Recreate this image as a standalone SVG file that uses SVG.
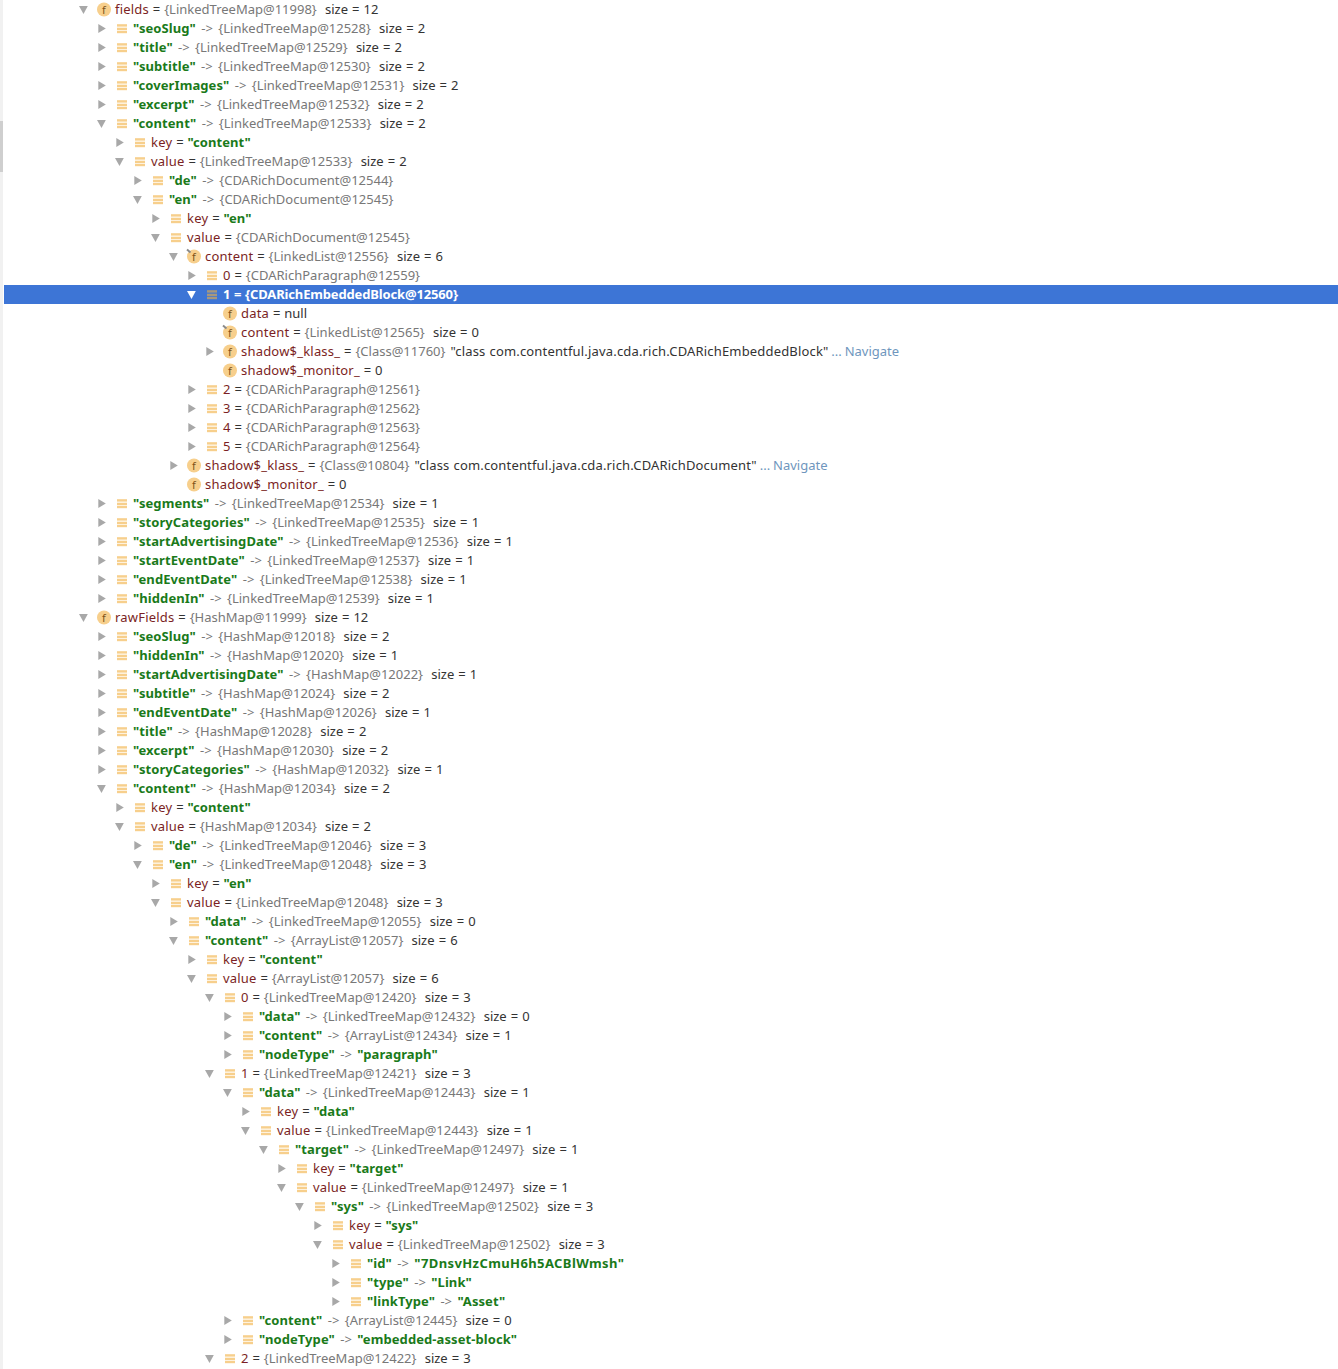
<svg xmlns="http://www.w3.org/2000/svg" width="1338" height="1369" viewBox="0 0 1338 1369">
<style>
text{font-family:"Noto Sans","Liberation Sans",sans-serif;font-size:13px;fill:#333;white-space:pre;word-spacing:.5px}
.n{fill:#7b1f24;letter-spacing:.2px}.g{fill:#787878;word-spacing:2px}.s{fill:#1a7a1a;font-weight:bold;letter-spacing:.08px}.v{fill:#6f96bd;word-spacing:-.5px}.z{word-spacing:.7px}.q{word-spacing:.5px;letter-spacing:.17px}
.w,.w tspan{fill:#fff;font-weight:bold;letter-spacing:-.15px}.fi{font-size:11px;fill:#7d5218;text-anchor:middle}
</style>
<defs>
<path id="c" d="M-3.700-4L3.800 .5L-3.700 5Z" fill="#a8a8a8"/>
<path id="o" d="M-5-3L3.800-3L-.5 5Z" fill="#a8a8a8"/>
<path id="ow" d="M-5-3L3.800-3L-.5 5Z" fill="#fff"/>
<g id="l" fill="#f7cf8c"><rect x="-5" y="-3.800" width="10" height="2.400"/><rect x="-5" y="-.3" width="10" height="2.400"/><rect x="-5" y="2.800" width="10" height="2.400"/></g>
<g id="lw" fill="#a8987c"><rect x="-5" y="-3.800" width="10" height="2.400"/><rect x="-5" y="-.3" width="10" height="2.400"/><rect x="-5" y="2.800" width="10" height="2.400"/></g>
<circle id="f" r="7" cy=".5" fill="#f7cf8c"/>
<path id="p" d="M-7-6.500L-3.500-3.500" stroke="#8a8a8a" stroke-width="2"/>
</defs>
<rect width="1338" height="1369" fill="#fff"/>
<rect x="0" y="0" width="3" height="1369" fill="#f1f1f1"/>
<rect x="0" y="121" width="3" height="51" fill="#cfcfcf"/>
<rect x="4" y="285" width="1334" height="19" fill="#3d75d6"/>
<g id="row0"><use href="#o" x="84" y="9"/><use href="#f" x="104" y="9"/><text class="fi" x="104" y="13.500">f</text><text x="115" y="14"><tspan class="n">fields</tspan> = <tspan class="g">{LinkedTreeMap@11998}</tspan><tspan class="z">  size = 12</tspan></text></g>
<g id="row1"><use href="#c" x="102" y="28"/><use href="#l" x="122" y="28"/><text x="133" y="33"><tspan class="s">"seoSlug"</tspan><tspan class="g"> -&gt; {LinkedTreeMap@12528}</tspan><tspan class="z">  size = 2</tspan></text></g>
<g id="row2"><use href="#c" x="102" y="47"/><use href="#l" x="122" y="47"/><text x="133" y="52"><tspan class="s">"title"</tspan><tspan class="g"> -&gt; {LinkedTreeMap@12529}</tspan><tspan class="z">  size = 2</tspan></text></g>
<g id="row3"><use href="#c" x="102" y="66"/><use href="#l" x="122" y="66"/><text x="133" y="71"><tspan class="s">"subtitle"</tspan><tspan class="g"> -&gt; {LinkedTreeMap@12530}</tspan><tspan class="z">  size = 2</tspan></text></g>
<g id="row4"><use href="#c" x="102" y="85"/><use href="#l" x="122" y="85"/><text x="133" y="90"><tspan class="s">"coverImages"</tspan><tspan class="g"> -&gt; {LinkedTreeMap@12531}</tspan><tspan class="z">  size = 2</tspan></text></g>
<g id="row5"><use href="#c" x="102" y="104"/><use href="#l" x="122" y="104"/><text x="133" y="109"><tspan class="s">"excerpt"</tspan><tspan class="g"> -&gt; {LinkedTreeMap@12532}</tspan><tspan class="z">  size = 2</tspan></text></g>
<g id="row6"><use href="#o" x="102" y="123"/><use href="#l" x="122" y="123"/><text x="133" y="128"><tspan class="s">"content"</tspan><tspan class="g"> -&gt; {LinkedTreeMap@12533}</tspan><tspan class="z">  size = 2</tspan></text></g>
<g id="row7"><use href="#c" x="120" y="142"/><use href="#l" x="140" y="142"/><text x="151" y="147"><tspan class="n">key</tspan> = <tspan class="s">"content"</tspan></text></g>
<g id="row8"><use href="#o" x="120" y="161"/><use href="#l" x="140" y="161"/><text x="151" y="166"><tspan class="n">value</tspan> = <tspan class="g">{LinkedTreeMap@12533}</tspan><tspan class="z">  size = 2</tspan></text></g>
<g id="row9"><use href="#c" x="138" y="180"/><use href="#l" x="158" y="180"/><text x="169" y="185"><tspan class="s">"de"</tspan><tspan class="g"> -&gt; {CDARichDocument@12544}</tspan></text></g>
<g id="row10"><use href="#o" x="138" y="199"/><use href="#l" x="158" y="199"/><text x="169" y="204"><tspan class="s">"en"</tspan><tspan class="g"> -&gt; {CDARichDocument@12545}</tspan></text></g>
<g id="row11"><use href="#c" x="156" y="218"/><use href="#l" x="176" y="218"/><text x="187" y="223"><tspan class="n">key</tspan> = <tspan class="s">"en"</tspan></text></g>
<g id="row12"><use href="#o" x="156" y="237"/><use href="#l" x="176" y="237"/><text x="187" y="242"><tspan class="n">value</tspan> = <tspan class="g">{CDARichDocument@12545}</tspan></text></g>
<g id="row13"><use href="#o" x="174" y="256"/><use href="#f" x="194" y="256"/><use href="#p" x="194" y="256"/><text class="fi" x="194" y="260.500">f</text><text x="205" y="261"><tspan class="n">content</tspan> = <tspan class="g">{LinkedList@12556}</tspan><tspan class="z">  size = 6</tspan></text></g>
<g id="row14"><use href="#c" x="192" y="275"/><use href="#l" x="212" y="275"/><text x="223" y="280"><tspan class="n">0</tspan> = <tspan class="g">{CDARichParagraph@12559}</tspan></text></g>
<g id="row15"><use href="#ow" x="192" y="294"/><use href="#lw" x="212" y="294"/><text class="w" x="223" y="299">1 = {CDARichEmbeddedBlock@12560}</text></g>
<g id="row16"><use href="#f" x="230" y="313"/><text class="fi" x="230" y="317.500">f</text><text x="241" y="318"><tspan class="n">data</tspan> = null</text></g>
<g id="row17"><use href="#f" x="230" y="332"/><use href="#p" x="230" y="332"/><text class="fi" x="230" y="336.500">f</text><text x="241" y="337"><tspan class="n">content</tspan> = <tspan class="g">{LinkedList@12565}</tspan><tspan class="z">  size = 0</tspan></text></g>
<g id="row18"><use href="#c" x="210" y="351"/><use href="#f" x="230" y="351"/><text class="fi" x="230" y="355.500">f</text><text x="241" y="356"><tspan class="n">shadow$_klass_</tspan> = <tspan class="g">{Class@11760}</tspan><tspan class="q" dx="1"> "class com.contentful.java.cda.rich.CDARichEmbeddedBlock"</tspan><tspan class="v"> ... Navigate</tspan></text></g>
<g id="row19"><use href="#f" x="230" y="370"/><text class="fi" x="230" y="374.500">f</text><text x="241" y="375"><tspan class="n">shadow$_monitor_</tspan> = 0</text></g>
<g id="row20"><use href="#c" x="192" y="389"/><use href="#l" x="212" y="389"/><text x="223" y="394"><tspan class="n">2</tspan> = <tspan class="g">{CDARichParagraph@12561}</tspan></text></g>
<g id="row21"><use href="#c" x="192" y="408"/><use href="#l" x="212" y="408"/><text x="223" y="413"><tspan class="n">3</tspan> = <tspan class="g">{CDARichParagraph@12562}</tspan></text></g>
<g id="row22"><use href="#c" x="192" y="427"/><use href="#l" x="212" y="427"/><text x="223" y="432"><tspan class="n">4</tspan> = <tspan class="g">{CDARichParagraph@12563}</tspan></text></g>
<g id="row23"><use href="#c" x="192" y="446"/><use href="#l" x="212" y="446"/><text x="223" y="451"><tspan class="n">5</tspan> = <tspan class="g">{CDARichParagraph@12564}</tspan></text></g>
<g id="row24"><use href="#c" x="174" y="465"/><use href="#f" x="194" y="465"/><text class="fi" x="194" y="469.500">f</text><text x="205" y="470"><tspan class="n">shadow$_klass_</tspan> = <tspan class="g">{Class@10804}</tspan><tspan class="q" dx="1"> "class com.contentful.java.cda.rich.CDARichDocument"</tspan><tspan class="v"> ... Navigate</tspan></text></g>
<g id="row25"><use href="#f" x="194" y="484"/><text class="fi" x="194" y="488.500">f</text><text x="205" y="489"><tspan class="n">shadow$_monitor_</tspan> = 0</text></g>
<g id="row26"><use href="#c" x="102" y="503"/><use href="#l" x="122" y="503"/><text x="133" y="508"><tspan class="s">"segments"</tspan><tspan class="g"> -&gt; {LinkedTreeMap@12534}</tspan><tspan class="z">  size = 1</tspan></text></g>
<g id="row27"><use href="#c" x="102" y="522"/><use href="#l" x="122" y="522"/><text x="133" y="527"><tspan class="s">"storyCategories"</tspan><tspan class="g"> -&gt; {LinkedTreeMap@12535}</tspan><tspan class="z">  size = 1</tspan></text></g>
<g id="row28"><use href="#c" x="102" y="541"/><use href="#l" x="122" y="541"/><text x="133" y="546"><tspan class="s">"startAdvertisingDate"</tspan><tspan class="g"> -&gt; {LinkedTreeMap@12536}</tspan><tspan class="z">  size = 1</tspan></text></g>
<g id="row29"><use href="#c" x="102" y="560"/><use href="#l" x="122" y="560"/><text x="133" y="565"><tspan class="s">"startEventDate"</tspan><tspan class="g"> -&gt; {LinkedTreeMap@12537}</tspan><tspan class="z">  size = 1</tspan></text></g>
<g id="row30"><use href="#c" x="102" y="579"/><use href="#l" x="122" y="579"/><text x="133" y="584"><tspan class="s">"endEventDate"</tspan><tspan class="g"> -&gt; {LinkedTreeMap@12538}</tspan><tspan class="z">  size = 1</tspan></text></g>
<g id="row31"><use href="#c" x="102" y="598"/><use href="#l" x="122" y="598"/><text x="133" y="603"><tspan class="s">"hiddenIn"</tspan><tspan class="g"> -&gt; {LinkedTreeMap@12539}</tspan><tspan class="z">  size = 1</tspan></text></g>
<g id="row32"><use href="#o" x="84" y="617"/><use href="#f" x="104" y="617"/><text class="fi" x="104" y="621.500">f</text><text x="115" y="622"><tspan class="n">rawFields</tspan> = <tspan class="g">{HashMap@11999}</tspan><tspan class="z">  size = 12</tspan></text></g>
<g id="row33"><use href="#c" x="102" y="636"/><use href="#l" x="122" y="636"/><text x="133" y="641"><tspan class="s">"seoSlug"</tspan><tspan class="g"> -&gt; {HashMap@12018}</tspan><tspan class="z">  size = 2</tspan></text></g>
<g id="row34"><use href="#c" x="102" y="655"/><use href="#l" x="122" y="655"/><text x="133" y="660"><tspan class="s">"hiddenIn"</tspan><tspan class="g"> -&gt; {HashMap@12020}</tspan><tspan class="z">  size = 1</tspan></text></g>
<g id="row35"><use href="#c" x="102" y="674"/><use href="#l" x="122" y="674"/><text x="133" y="679"><tspan class="s">"startAdvertisingDate"</tspan><tspan class="g"> -&gt; {HashMap@12022}</tspan><tspan class="z">  size = 1</tspan></text></g>
<g id="row36"><use href="#c" x="102" y="693"/><use href="#l" x="122" y="693"/><text x="133" y="698"><tspan class="s">"subtitle"</tspan><tspan class="g"> -&gt; {HashMap@12024}</tspan><tspan class="z">  size = 2</tspan></text></g>
<g id="row37"><use href="#c" x="102" y="712"/><use href="#l" x="122" y="712"/><text x="133" y="717"><tspan class="s">"endEventDate"</tspan><tspan class="g"> -&gt; {HashMap@12026}</tspan><tspan class="z">  size = 1</tspan></text></g>
<g id="row38"><use href="#c" x="102" y="731"/><use href="#l" x="122" y="731"/><text x="133" y="736"><tspan class="s">"title"</tspan><tspan class="g"> -&gt; {HashMap@12028}</tspan><tspan class="z">  size = 2</tspan></text></g>
<g id="row39"><use href="#c" x="102" y="750"/><use href="#l" x="122" y="750"/><text x="133" y="755"><tspan class="s">"excerpt"</tspan><tspan class="g"> -&gt; {HashMap@12030}</tspan><tspan class="z">  size = 2</tspan></text></g>
<g id="row40"><use href="#c" x="102" y="769"/><use href="#l" x="122" y="769"/><text x="133" y="774"><tspan class="s">"storyCategories"</tspan><tspan class="g"> -&gt; {HashMap@12032}</tspan><tspan class="z">  size = 1</tspan></text></g>
<g id="row41"><use href="#o" x="102" y="788"/><use href="#l" x="122" y="788"/><text x="133" y="793"><tspan class="s">"content"</tspan><tspan class="g"> -&gt; {HashMap@12034}</tspan><tspan class="z">  size = 2</tspan></text></g>
<g id="row42"><use href="#c" x="120" y="807"/><use href="#l" x="140" y="807"/><text x="151" y="812"><tspan class="n">key</tspan> = <tspan class="s">"content"</tspan></text></g>
<g id="row43"><use href="#o" x="120" y="826"/><use href="#l" x="140" y="826"/><text x="151" y="831"><tspan class="n">value</tspan> = <tspan class="g">{HashMap@12034}</tspan><tspan class="z">  size = 2</tspan></text></g>
<g id="row44"><use href="#c" x="138" y="845"/><use href="#l" x="158" y="845"/><text x="169" y="850"><tspan class="s">"de"</tspan><tspan class="g"> -&gt; {LinkedTreeMap@12046}</tspan><tspan class="z">  size = 3</tspan></text></g>
<g id="row45"><use href="#o" x="138" y="864"/><use href="#l" x="158" y="864"/><text x="169" y="869"><tspan class="s">"en"</tspan><tspan class="g"> -&gt; {LinkedTreeMap@12048}</tspan><tspan class="z">  size = 3</tspan></text></g>
<g id="row46"><use href="#c" x="156" y="883"/><use href="#l" x="176" y="883"/><text x="187" y="888"><tspan class="n">key</tspan> = <tspan class="s">"en"</tspan></text></g>
<g id="row47"><use href="#o" x="156" y="902"/><use href="#l" x="176" y="902"/><text x="187" y="907"><tspan class="n">value</tspan> = <tspan class="g">{LinkedTreeMap@12048}</tspan><tspan class="z">  size = 3</tspan></text></g>
<g id="row48"><use href="#c" x="174" y="921"/><use href="#l" x="194" y="921"/><text x="205" y="926"><tspan class="s">"data"</tspan><tspan class="g"> -&gt; {LinkedTreeMap@12055}</tspan><tspan class="z">  size = 0</tspan></text></g>
<g id="row49"><use href="#o" x="174" y="940"/><use href="#l" x="194" y="940"/><text x="205" y="945"><tspan class="s">"content"</tspan><tspan class="g"> -&gt; {ArrayList@12057}</tspan><tspan class="z">  size = 6</tspan></text></g>
<g id="row50"><use href="#c" x="192" y="959"/><use href="#l" x="212" y="959"/><text x="223" y="964"><tspan class="n">key</tspan> = <tspan class="s">"content"</tspan></text></g>
<g id="row51"><use href="#o" x="192" y="978"/><use href="#l" x="212" y="978"/><text x="223" y="983"><tspan class="n">value</tspan> = <tspan class="g">{ArrayList@12057}</tspan><tspan class="z">  size = 6</tspan></text></g>
<g id="row52"><use href="#o" x="210" y="997"/><use href="#l" x="230" y="997"/><text x="241" y="1002"><tspan class="n">0</tspan> = <tspan class="g">{LinkedTreeMap@12420}</tspan><tspan class="z">  size = 3</tspan></text></g>
<g id="row53"><use href="#c" x="228" y="1016"/><use href="#l" x="248" y="1016"/><text x="259" y="1021"><tspan class="s">"data"</tspan><tspan class="g"> -&gt; {LinkedTreeMap@12432}</tspan><tspan class="z">  size = 0</tspan></text></g>
<g id="row54"><use href="#c" x="228" y="1035"/><use href="#l" x="248" y="1035"/><text x="259" y="1040"><tspan class="s">"content"</tspan><tspan class="g"> -&gt; {ArrayList@12434}</tspan><tspan class="z">  size = 1</tspan></text></g>
<g id="row55"><use href="#c" x="228" y="1054"/><use href="#l" x="248" y="1054"/><text x="259" y="1059"><tspan class="s">"nodeType"</tspan><tspan class="g"> -&gt; </tspan><tspan class="s">"paragraph"</tspan></text></g>
<g id="row56"><use href="#o" x="210" y="1073"/><use href="#l" x="230" y="1073"/><text x="241" y="1078"><tspan class="n">1</tspan> = <tspan class="g">{LinkedTreeMap@12421}</tspan><tspan class="z">  size = 3</tspan></text></g>
<g id="row57"><use href="#o" x="228" y="1092"/><use href="#l" x="248" y="1092"/><text x="259" y="1097"><tspan class="s">"data"</tspan><tspan class="g"> -&gt; {LinkedTreeMap@12443}</tspan><tspan class="z">  size = 1</tspan></text></g>
<g id="row58"><use href="#c" x="246" y="1111"/><use href="#l" x="266" y="1111"/><text x="277" y="1116"><tspan class="n">key</tspan> = <tspan class="s">"data"</tspan></text></g>
<g id="row59"><use href="#o" x="246" y="1130"/><use href="#l" x="266" y="1130"/><text x="277" y="1135"><tspan class="n">value</tspan> = <tspan class="g">{LinkedTreeMap@12443}</tspan><tspan class="z">  size = 1</tspan></text></g>
<g id="row60"><use href="#o" x="264" y="1149"/><use href="#l" x="284" y="1149"/><text x="295" y="1154"><tspan class="s">"target"</tspan><tspan class="g"> -&gt; {LinkedTreeMap@12497}</tspan><tspan class="z">  size = 1</tspan></text></g>
<g id="row61"><use href="#c" x="282" y="1168"/><use href="#l" x="302" y="1168"/><text x="313" y="1173"><tspan class="n">key</tspan> = <tspan class="s">"target"</tspan></text></g>
<g id="row62"><use href="#o" x="282" y="1187"/><use href="#l" x="302" y="1187"/><text x="313" y="1192"><tspan class="n">value</tspan> = <tspan class="g">{LinkedTreeMap@12497}</tspan><tspan class="z">  size = 1</tspan></text></g>
<g id="row63"><use href="#o" x="300" y="1206"/><use href="#l" x="320" y="1206"/><text x="331" y="1211"><tspan class="s">"sys"</tspan><tspan class="g"> -&gt; {LinkedTreeMap@12502}</tspan><tspan class="z">  size = 3</tspan></text></g>
<g id="row64"><use href="#c" x="318" y="1225"/><use href="#l" x="338" y="1225"/><text x="349" y="1230"><tspan class="n">key</tspan> = <tspan class="s">"sys"</tspan></text></g>
<g id="row65"><use href="#o" x="318" y="1244"/><use href="#l" x="338" y="1244"/><text x="349" y="1249"><tspan class="n">value</tspan> = <tspan class="g">{LinkedTreeMap@12502}</tspan><tspan class="z">  size = 3</tspan></text></g>
<g id="row66"><use href="#c" x="336" y="1263"/><use href="#l" x="356" y="1263"/><text x="367" y="1268"><tspan class="s">"id"</tspan><tspan class="g"> -&gt; </tspan><tspan class="s" style="letter-spacing:.4px">"7DnsvHzCmuH6h5ACBlWmsh"</tspan></text></g>
<g id="row67"><use href="#c" x="336" y="1282"/><use href="#l" x="356" y="1282"/><text x="367" y="1287"><tspan class="s">"type"</tspan><tspan class="g"> -&gt; </tspan><tspan class="s">"Link"</tspan></text></g>
<g id="row68"><use href="#c" x="336" y="1301"/><use href="#l" x="356" y="1301"/><text x="367" y="1306"><tspan class="s">"linkType"</tspan><tspan class="g"> -&gt; </tspan><tspan class="s">"Asset"</tspan></text></g>
<g id="row69"><use href="#c" x="228" y="1320"/><use href="#l" x="248" y="1320"/><text x="259" y="1325"><tspan class="s">"content"</tspan><tspan class="g"> -&gt; {ArrayList@12445}</tspan><tspan class="z">  size = 0</tspan></text></g>
<g id="row70"><use href="#c" x="228" y="1339"/><use href="#l" x="248" y="1339"/><text x="259" y="1344"><tspan class="s">"nodeType"</tspan><tspan class="g"> -&gt; </tspan><tspan class="s">"embedded-asset-block"</tspan></text></g>
<g id="row71"><use href="#o" x="210" y="1358"/><use href="#l" x="230" y="1358"/><text x="241" y="1363"><tspan class="n">2</tspan> = <tspan class="g">{LinkedTreeMap@12422}</tspan><tspan class="z">  size = 3</tspan></text></g>
</svg>
